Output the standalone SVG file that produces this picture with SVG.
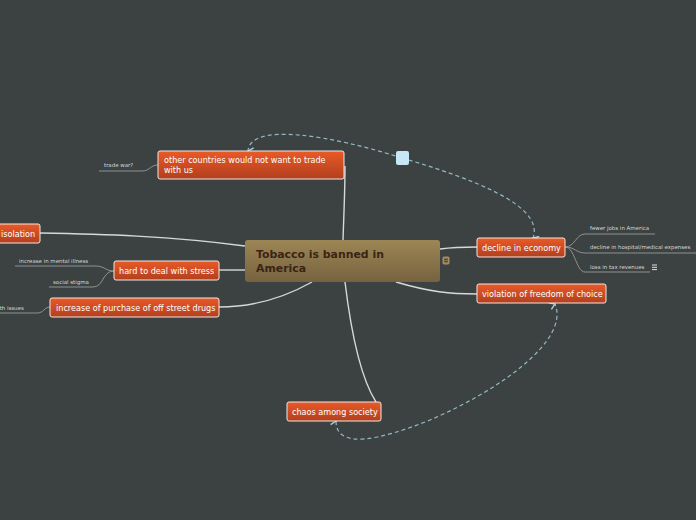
<svg xmlns="http://www.w3.org/2000/svg" width="696" height="520" viewBox="0 0 696 520">
<defs>
<linearGradient id="og" x1="0" y1="0" x2="0" y2="1"><stop offset="0" stop-color="#e95a28"/><stop offset="1" stop-color="#b23f1e"/></linearGradient>
<linearGradient id="bg" x1="0" y1="0" x2="0" y2="1"><stop offset="0" stop-color="#9d8655"/><stop offset="1" stop-color="#76623f"/></linearGradient>
<marker id="arr" viewBox="0 0 10 10" refX="5" refY="8" markerWidth="9" markerHeight="9" orient="auto-start-reverse" markerUnits="userSpaceOnUse"><path d="M1,2 L5,8 L9,2" fill="none" stroke="#a9ccd8" stroke-width="1.6"/></marker>
<style>
.node rect.o{fill:url(#og);stroke:#f3e6e0;stroke-width:1}
.t{font-family:"DejaVu Sans",sans-serif;font-size:8.1px;fill:#ffffff}
.leaf{font-family:"DejaVu Sans",sans-serif;font-size:5.45px;fill:#d6d6d6}
.ln{fill:none;stroke:#d8d8d8;stroke-width:1.4}
.thin{fill:none;stroke:#9a9a9a;stroke-width:0.9}
.dash{fill:none;stroke:#93b8c4;stroke-width:1.2;stroke-dasharray:4 3}
</style>
</defs>
<rect width="696" height="520" fill="#3c4242"/>
<g id="connectors">
<path class="ln" d="M343,240 C344,210 345,190 345,166"/>
<path class="ln" d="M245,246 C170,236 100,234 40,233"/>
<path class="ln" d="M245,270 L219,270"/>
<path class="ln" d="M312,282 C280,300 250,307 219,307"/>
<path class="ln" d="M440,249 C455,247 465,247 477,247"/>
<path class="ln" d="M396,282 C430,292 450,294 477,294"/>
<path class="ln" d="M345,282 C352,340 362,380 376,402"/>
<path class="thin" d="M99,171 L142,171 C150,171 150,165 158,165"/>
<path class="thin" d="M15,266 L95,266 C105,266 105,271 114,271"/>
<path class="thin" d="M49,287 L93,287 C104,287 102,271 114,271"/>
<path class="thin" d="M0,313 L37,313 C44,313 44,307 50,307"/>
<path class="thin" d="M565,247 C575,247 576,234 585,234 L655,234"/>
<path class="thin" d="M565,247 C575,247 576,253 585,253 L696,253"/>
<path class="thin" d="M565,247 C575,247 576,272 585,272 L650,272"/>
<path class="dash" marker-end="url(#arr)" d="M402,158 C330,135 250,122 248,151"/>
<path class="dash" marker-end="url(#arr)" d="M402,158 C470,178 545,205 533,238"/>
<path class="dash" marker-start="url(#arr)" marker-end="url(#arr)" d="M336,421 C336,450 380,440 430,420 C500,390 570,340 555,304"/>
<rect x="396" y="151" width="13" height="14" rx="2" fill="#c6e7f3"/>
</g>
<g id="central" class="node">
<rect x="245" y="240" width="195" height="42" rx="3" fill="url(#bg)"/>
<text x="256" y="258" font-family="DejaVu Sans, sans-serif" font-size="10.9" font-weight="bold" fill="#3a2414">Tobacco is banned in</text>
<text x="256" y="272" font-family="DejaVu Sans, sans-serif" font-size="10.9" font-weight="bold" fill="#3a2414">America</text>
<rect x="443" y="257" width="6" height="7" rx="1" fill="#8b7450" stroke="#c9a86e" stroke-width="0.8"/>
<path d="M444.5,259.5 H447.5 M444.5,261.5 H447.5" stroke="#3a2414" stroke-width="0.7"/>
</g>
<g id="n-trade" class="node">
<rect class="o" x="158" y="151" width="186" height="28" rx="2"/>
<text class="t" x="164" y="163">other countries would not want to trade</text>
<text class="t" x="164" y="173">with us</text>
</g>
<g id="n-isolation" class="node">
<rect class="o" x="-6" y="224" width="46" height="19" rx="2"/>
<text class="t" x="1" y="237">isolation</text>
</g>
<g id="n-stress" class="node">
<rect class="o" x="114" y="261" width="105" height="19" rx="2"/>
<text class="t" x="119" y="274">hard to deal with stress</text>
</g>
<g id="n-drugs" class="node">
<rect class="o" x="50" y="298" width="169" height="19" rx="2"/>
<text class="t" x="56" y="311">increase of purchase of off street drugs</text>
</g>
<g id="n-economy" class="node">
<rect class="o" x="477" y="238" width="88" height="19" rx="2"/>
<text class="t" x="482" y="251">decline in economy</text>
</g>
<g id="n-freedom" class="node">
<rect class="o" x="477" y="284" width="129" height="19" rx="2"/>
<text class="t" x="482" y="297">violation of freedom of choice</text>
</g>
<g id="n-chaos" class="node">
<rect class="o" x="287" y="402" width="94" height="19" rx="2"/>
<text class="t" x="292" y="415">chaos among society</text>
</g>
<g id="leaves">
<text class="leaf" x="104" y="167">trade war?</text>
<text class="leaf" x="19" y="263">increase in mental illness</text>
<text class="leaf" x="53" y="284">social stigma</text>
<text class="leaf" x="-12" y="310">health issues</text>
<text class="leaf" x="590" y="230">fewer jobs in America</text>
<text class="leaf" x="590" y="249">decline in hospital/medical expenses</text>
<text class="leaf" x="590" y="269">loss in tax revenues</text>
<path d="M652,265 H657 M652,267.3 H657 M652,269.6 H657" stroke="#f0f0f0" stroke-width="0.9"/>
</g>
</svg>
